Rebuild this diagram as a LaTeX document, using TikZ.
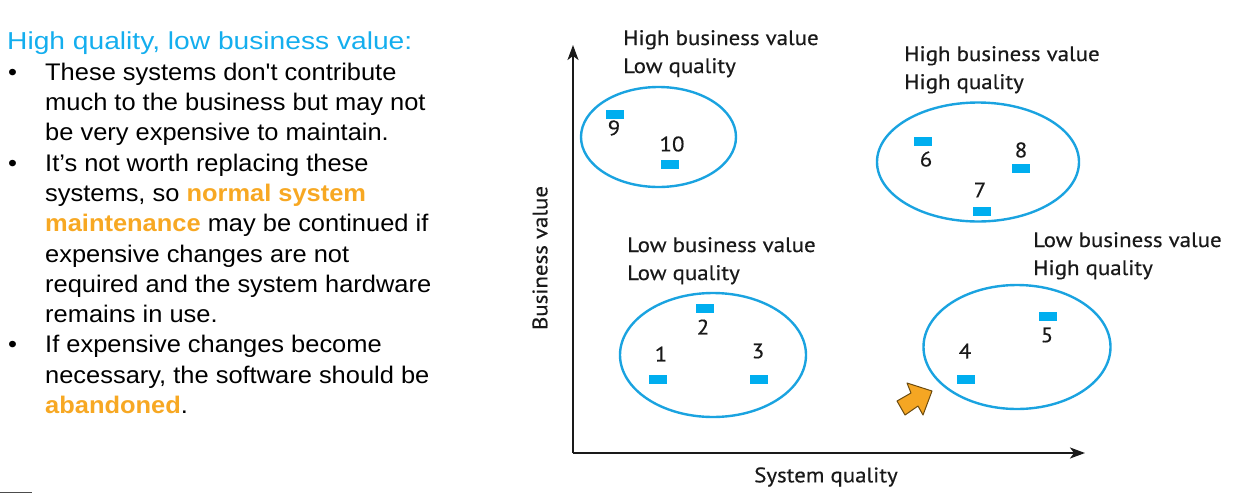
\documentclass[tikz,border=0pt]{standalone}
\usepackage{fontspec}
\setmainfont{Liberation Sans}[FakeStretch=1.06,Ligatures=TeXOff]
\newfontfamily\headfont{Liberation Sans}[FakeStretch=1.15]
\newfontfamily\figfont{PT Sans}[FakeStretch=1.09,FakeBold=0.4]
\usetikzlibrary{shapes.geometric,arrows.meta}
\definecolor{headblue}{HTML}{14AEEE}
\definecolor{hiorange}{HTML}{F7A823}
\definecolor{ringblue}{HTML}{1AA3E0}
\definecolor{markblue}{HTML}{00AEEF}
\definecolor{arrowfill}{HTML}{F5A623}
\definecolor{arrowedge}{HTML}{6B4A0E}
\definecolor{axisgray}{HTML}{1A1A1A}
\begin{document}
\begin{tikzpicture}[x=1pt,y=-1pt,
  bodytext/.style={anchor=base west,inner sep=0pt,font=\fontsize{24}{28}\selectfont,text=black},
  headtext/.style={anchor=base west,inner sep=0pt,font=\headfont\fontsize{24.5}{28}\selectfont,text=headblue},
  quadlabel/.style={anchor=base west,inner sep=0pt,font=\figfont\fontsize{21}{25}\selectfont,text=black!90},
  numlabel/.style={anchor=center,inner sep=0pt,font=\figfont\fontsize{21}{25}\selectfont,text=black!90},
  axislabel/.style={anchor=center,inner sep=0pt,font=\figfont\fontsize{21}{25}\selectfont,text=black!90},
  ring/.style={ellipse,draw=ringblue,line width=2.4pt,inner sep=0pt},
  marker/.style={rectangle,fill=markblue,inner sep=0pt,minimum width=18pt,minimum height=9pt},
  axis/.style={draw=axisgray,line width=1.8pt,-{Stealth[length=15pt,width=11pt,inset=4pt]}}
]
\useasboundingbox (0,0) rectangle (1245,493);

% ---- text column ----
\newcommand{\hlt}[1]{\textcolor{hiorange}{\textbf{#1}}}
\node[headtext] (head) at (7,49.5) {High quality, low business value:};
\node[bodytext] (b1) at (8,80) {•};
\node[bodytext] (t1) at (45,80) {These systems don't contribute};
\node[bodytext] (t2) at (45,110.5) {much to the business but may not};
\node[bodytext] (t3) at (45,140.8) {be very expensive to maintain.};
\node[bodytext] (b2) at (8,171.1) {•};
\node[bodytext] (t4) at (45,171.1) {It’s not worth replacing these};
\node[bodytext] (t5) at (45,201.4) {systems, so \hlt{normal system}};
\node[bodytext] (t6) at (45,231.7) {\hlt{maintenance} may be continued if};
\node[bodytext] (t7) at (45,262) {expensive changes are not};
\node[bodytext] (t8) at (45,292.3) {required and the system hardware};
\node[bodytext] (t9) at (45,322.6) {remains in use.};
\node[bodytext] (b3) at (8,352.9) {•};
\node[bodytext] (t10) at (45,352.9) {If expensive changes become};
\node[bodytext] (t11) at (45,383.2) {necessary, the software should be};
\node[bodytext] (t12) at (45,413.5) {\hlt{abandoned}.};

% ---- axes ----
\coordinate (origin) at (573,453);
\coordinate (ytip) at (573,45);
\coordinate (xtip) at (1085,453);
\draw[axis] (origin) -- (ytip);
\draw[axis] (origin) -- (xtip);
\node[axislabel,rotate=90] (ylab) at (540,258) {Business value};
\node[axislabel] (xlab) at (826,477) {System quality};

% ---- quadrant captions ----
\node[quadlabel] (q1a) at (623,45) {High business value};
\node[quadlabel] (q1b) at (623,73) {Low quality};
\node[quadlabel] (q2a) at (904,61) {High business value};
\node[quadlabel] (q2b) at (904,89) {High quality};
\node[quadlabel] (q3a) at (627,252) {Low business value};
\node[quadlabel] (q3b) at (627,280) {Low quality};
\node[quadlabel] (q4a) at (1033,247) {Low business value};
\node[quadlabel] (q4b) at (1033,275) {High quality};

% ---- groups ----
\node[ring,minimum width=155pt,minimum height=100pt] (g1) at (658.5,137) {};
\node[ring,minimum width=202pt,minimum height=119pt] (g2) at (978,162) {};
\node[ring,minimum width=186pt,minimum height=124pt] (g3) at (713,355) {};
\node[ring,minimum width=187pt,minimum height=124pt] (g4) at (1017,347) {};

% ---- systems ----
\node[marker] (m9) at (615,114) {};
\node[numlabel] (n9) at (614,128) {9};
\node[marker] (m10) at (670,164) {};
\node[numlabel] (n10) at (672,144) {10};
\node[marker] (m6) at (923,141) {};
\node[numlabel] (n6) at (926,159) {6};
\node[marker] (m8) at (1021,168) {};
\node[numlabel] (n8) at (1021,150) {8};
\node[marker] (m7) at (982,211) {};
\node[numlabel] (n7) at (980,190) {7};
\node[marker] (m2) at (705,308) {};
\node[numlabel] (n2) at (703,327) {2};
\node[marker] (m1) at (658,379) {};
\node[numlabel] (n1) at (661,354) {1};
\node[marker] (m3) at (759,379) {};
\node[numlabel] (n3) at (758,351) {3};
\node[marker] (m5) at (1048,316) {};
\node[numlabel] (n5) at (1047,335) {5};
\node[marker] (m4) at (966,379) {};
\node[numlabel] (n4) at (965,351) {4};

% ---- pointer arrow ----
\draw[fill=arrowfill,draw=arrowedge,line width=1pt,line join=round]
  (932,391) -- (907,383) -- (911,393) -- (897,401) -- (905,415) -- (918,406) -- (923,415) -- cycle;

% ---- edge mark ----
\draw[black!70,line width=1pt] (0,492.5) -- (32,492.5);
\end{tikzpicture}
\end{document}
